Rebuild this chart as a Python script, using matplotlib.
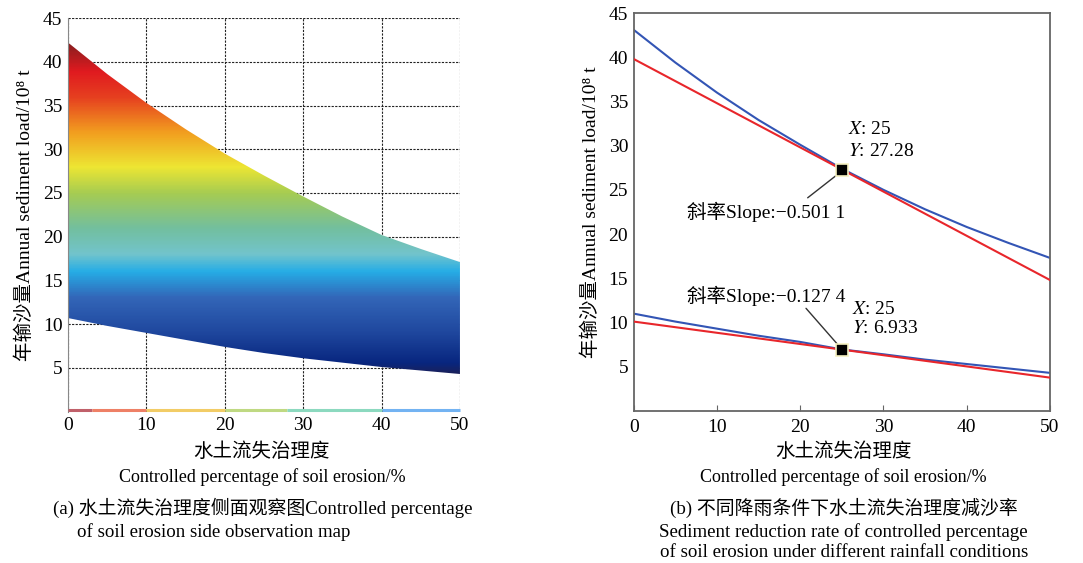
import numpy as np
import matplotlib
matplotlib.use("Agg")
import matplotlib.pyplot as plt
from matplotlib.colors import LinearSegmentedColormap
from matplotlib.patches import Polygon

plt.rcParams["font.family"] = ["Liberation Serif", "Noto Sans CJK SC", "DejaVu Sans"]
plt.rcParams["mathtext.fontset"] = "stix"

# ---- data ----
x_pts = [0, 5, 10, 15, 20, 25, 30, 35, 40, 45, 50]

# (a) side view of the surface: upper and lower envelopes
surf_upper = [42.2, 38.6, 35.3, 32.3, 29.5, 27.0, 24.6, 22.3, 20.2, 18.6, 17.1]
surf_lower = [10.7, 9.8, 9.0, 8.2, 7.4, 6.7, 6.1, 5.6, 5.1, 4.7, 4.3]

# (b) two rainfall conditions (blue) and tangent lines at X=25 (red)
blue_high = [43.1, 39.4, 36.0, 32.9, 30.1, 27.4, 25.0, 22.8, 20.8, 19.0, 17.3]
blue_low = [11.0, 10.1, 9.3, 8.5, 7.8, 6.95, 6.4, 5.8, 5.3, 4.8, 4.3]
red_x = [0, 50]
red_high = [39.8, 14.8]
red_low = [10.1, 3.76]
pt_x = 25
pt_high = 27.28
pt_low = 6.933
slope_high = "\u22120.501 1"
slope_low = "\u22120.127 4"

x_ticks = [0, 10, 20, 30, 40, 50]
y_ticks = [5, 10, 15, 20, 25, 30, 35, 40, 45]

# colour ramp of the surface (value -> colour)
ramp_vals = [4, 5.5, 9, 13, 16, 18, 21, 25, 28, 32, 36, 39, 42.5]
ramp_cols = ["#1f1f52", "#08267f", "#1f479e", "#3366b8", "#26ade6", "#72c4cc",
             "#73bf9e", "#a6cc52", "#ede633", "#f29e1f", "#e64020", "#e01a1f", "#801f1f"]

# pale strip along the bottom edge
strip_edges = [0, 3, 10, 20, 28, 40, 50]
strip_cols = ["#c0606a", "#ee8066", "#f2cc66", "#bfd982", "#8cd9bf", "#73b3f2"]

BLUE = "#3355b5"
RED = "#e8262b"
FS = 14
YLAB = "年输沙量Annual sediment load/10\u2078 t"
XLAB_CN = "水土流失治理度"
XLAB_EN = "Controlled percentage of soil erosion/%"

fig = plt.figure(figsize=(10.83, 5.63), dpi=100)

# ---------------- panel (a) ----------------
ax1 = fig.add_axes([0.0628, 0.2689, 0.3619, 0.699])
norm_pos = [(v - ramp_vals[0]) / (ramp_vals[-1] - ramp_vals[0]) for v in ramp_vals]
cmap = LinearSegmentedColormap.from_list("side", list(zip(norm_pos, ramp_cols)))
grad = np.linspace(0, 45, 500)[:, None]
img = ax1.imshow(grad, extent=[0, 50, 0, 45], origin="lower", aspect="auto",
                 cmap=cmap, vmin=ramp_vals[0], vmax=ramp_vals[-1], zorder=2)
clip = Polygon(np.column_stack([x_pts + x_pts[::-1], surf_upper + surf_lower[::-1]]),
               closed=True, transform=ax1.transData, facecolor="none", edgecolor="none")
ax1.add_patch(clip)
img.set_clip_path(clip)

for i in range(len(strip_cols)):
    ax1.plot(strip_edges[i:i + 2], [0.15, 0.15], color=strip_cols[i], lw=2.2,
             solid_capstyle="butt", clip_on=False, zorder=3)

ax1.set_xlim(0, 50)
ax1.set_ylim(0, 45)
ax1.set_xticks(x_ticks)
ax1.set_yticks(y_ticks)
ax1.grid(True, color="#222222", linestyle=(0, (2, 1.2)), linewidth=0.8, zorder=0)
ax1.set_axisbelow(True)
for s in ["top", "right", "bottom"]:
    ax1.spines[s].set_visible(False)
ax1.spines["left"].set_color("#888888")
ax1.tick_params(length=0, labelsize=FS, pad=4)
ax1.set_ylabel(YLAB, fontsize=14, labelpad=6)

# ---------------- panel (b) ----------------
ax2 = fig.add_axes([0.5851, 0.2702, 0.3844, 0.7067])
ax2.plot(x_pts, blue_high, color=BLUE, lw=1.5, zorder=2)
ax2.plot(red_x, red_high, color=RED, lw=1.5, zorder=3)
ax2.plot(x_pts, blue_low, color=BLUE, lw=1.5, zorder=2)
ax2.plot(red_x, red_low, color=RED, lw=1.5, zorder=3)
ax2.plot([pt_x, pt_x], [pt_high, pt_low], ls="none", marker="s", ms=9,
         mfc="black", mec="#f5f0c0", mew=1.2, zorder=5)

# data tips
ax2.text(25.7, 31.8, "$X$: 25", fontsize=FS, va="center")
ax2.text(25.7, 29.3, "$Y$: %.2f" % pt_high, fontsize=FS, va="center")
ax2.text(26.2, 11.5, "$X$: 25", fontsize=FS, va="center")
ax2.text(26.2, 9.3, "$Y$: %.3f" % pt_low, fontsize=FS, va="center")

# slope labels with leader lines
ax2.text(15.9, 22.5, "斜率Slope:" + slope_high, fontsize=FS, ha="center", va="center")
ax2.annotate("", xy=(24.7, 26.9), xytext=(20.9, 24.1),
             arrowprops=dict(arrowstyle="-", color="#333333", lw=1,
                             shrinkA=0, shrinkB=0))
ax2.text(15.9, 13.0, "斜率Slope:" + slope_low, fontsize=FS, ha="center", va="center")
ax2.annotate("", xy=(24.7, 7.3), xytext=(20.7, 11.6),
             arrowprops=dict(arrowstyle="-", color="#333333", lw=1,
                             shrinkA=0, shrinkB=0))

ax2.set_xlim(0, 50)
ax2.set_ylim(0, 45)
ax2.set_xticks(x_ticks)
ax2.set_yticks(y_ticks)
for s in ax2.spines.values():
    s.set_color("#666666")
    s.set_linewidth(1.3)
ax2.tick_params(axis="x", direction="in", length=4, color="#666666", labelsize=FS, pad=6)
ax2.tick_params(axis="y", length=0, labelsize=FS, pad=4)
ax2.set_ylabel(YLAB, fontsize=14, labelpad=6)

# ---------------- axis titles and captions ----------------
for xc in (0.2419, 0.779):
    fig.text(xc, 0.197, XLAB_CN, fontsize=14, ha="center", va="center")
    fig.text(xc, 0.153, XLAB_EN, fontsize=13, ha="center", va="center")

CAP = 13.6
fig.text(0.049, 0.0977, "(a) 水土流失治理度侧面观察图Controlled percentage",
         fontsize=CAP, ha="left", va="center")
fig.text(0.071, 0.055, "of soil erosion side observation map",
         fontsize=CAP, ha="left", va="center")

fig.text(0.779, 0.0977, "(b) 不同降雨条件下水土流失治理度减沙率",
         fontsize=CAP, ha="center", va="center")
fig.text(0.779, 0.055, "Sediment reduction rate of controlled percentage",
         fontsize=CAP, ha="center", va="center")
fig.text(0.779, 0.0178, "of soil erosion under different rainfall conditions",
         fontsize=CAP, ha="center", va="center")

fig.savefig("out.png", dpi=100)
